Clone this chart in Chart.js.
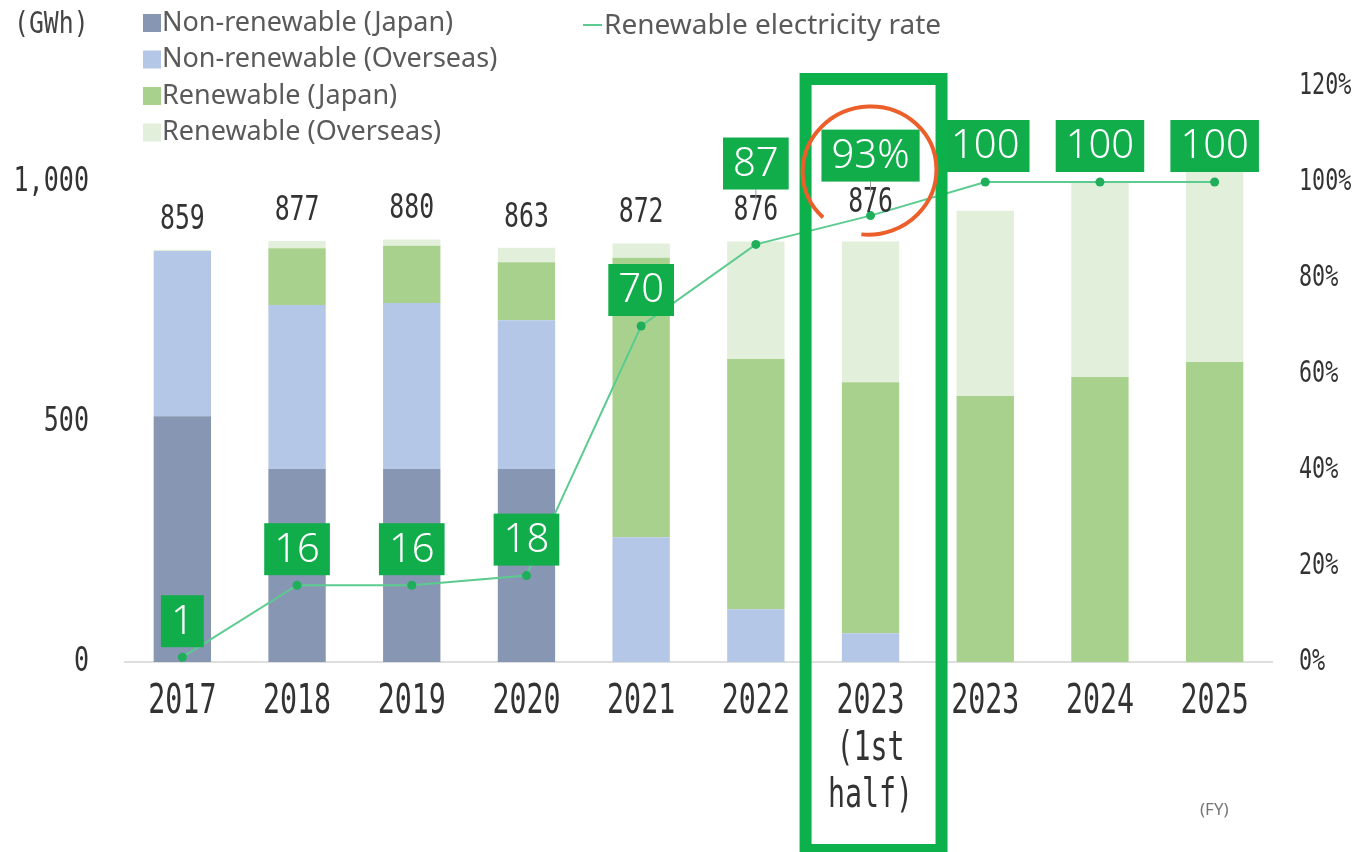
<!DOCTYPE html>
<html>
<head>
<meta charset="utf-8">
<script src="https://cdn.jsdelivr.net/npm/chart.js@4"></script>
<style>
  html, body { margin: 0; padding: 0; background: #ffffff; }
  #wrap { position: relative; width: 1363px; height: 852px; }
</style>
</head>
<body>
<div id="wrap"><canvas id="c" width="1363" height="852"></canvas></div>
<script>
// ---- data ----
const categories = ['2017', '2018', '2019', '2020', '2021', '2022', ['2023', '(1st', 'half)'], '2023', '2024', '2025'];
const nonRenewableJapan    = [512, 402, 402, 402, 0, 0, 0, 0, 0, 0];
const nonRenewableOverseas = [344, 342, 346, 310, 260, 110, 60, 0, 0, 0];
const renewableJapan       = [0, 118, 119, 121, 582, 521, 523, 554, 594, 625];
const renewableOverseas    = [3, 15, 13, 30, 30, 245, 293, 386, 406, 404];
const totalLabels          = ['859', '877', '880', '863', '872', '876', '876', null, null, null];
const renewableRate        = [1, 16, 16, 18, 70, 87, 93, 100, 100, 100];
const rateLabels           = ['1', '16', '16', '18', '70', '87', '93%', '100', '100', '100'];
const leftTicks            = [0, 500, 1000];
const rightTicks           = [0, 20, 40, 60, 80, 100, 120];
const seriesNames = ['Non-renewable (Japan)', 'Non-renewable (Overseas)', 'Renewable (Japan)', 'Renewable (Overseas)'];
const lineName = 'Renewable electricity rate';
const highlightIndex = 6;

const MONO = '"DejaVu Sans Mono", "Liberation Mono", monospace';
const colors = ['#8796b3', '#b4c7e7', '#a9d18e', '#e2efda'];
const boxGreen = '#12ad4b';

function narrowText(ctx, text, x, y, size, sx, align, color) {
  ctx.save();
  ctx.font = size + 'px ' + MONO;
  ctx.fillStyle = color || '#333333';
  ctx.textBaseline = 'middle';
  ctx.textAlign = align;
  ctx.translate(x, y);
  ctx.scale(sx, 1);
  ctx.fillText(text, 0, 0);
  ctx.restore();
}

const overlay = {
  id: 'overlay',
  afterDatasetsDraw(chart) {
    const ctx = chart.ctx;
    const x = chart.scales.x, y = chart.scales.y, y1 = chart.scales.y1;
    ctx.save();
    const labelY = [];
    categories.forEach((c, i) => {
      const total = nonRenewableJapan[i] + nonRenewableOverseas[i] + renewableJapan[i] + renewableOverseas[i];
      const px = x.getPixelForValue(i);
      const py = y1.getPixelForValue(renewableRate[i]);
      let ly = null;
      if (totalLabels[i]) {
        ly = Math.min(y.getPixelForValue(total) - 30, py - 12);
        narrowText(ctx, totalLabels[i], px, ly, 34, 0.73, 'center', '#333333');
      }
      labelY.push(ly);
    });
    // green value boxes
    categories.forEach((c, i) => {
      const px = x.getPixelForValue(i);
      const py = y1.getPixelForValue(renewableRate[i]);
      ctx.font = '300 40px "Noto Sans", Lato, sans-serif';
      const tw = ctx.measureText(rateLabels[i]).width;
      const w = tw + 20, h = 52;
      let bottom = py - 10;
      const ly = labelY[i];
      if (ly !== null && bottom - h < ly + 16 && bottom > ly - 16) {
        bottom = ly - 22;
        ctx.strokeStyle = '#9a9a9a';
        ctx.lineWidth = 1;
        ctx.beginPath(); ctx.moveTo(px, bottom); ctx.lineTo(px, ly - 12); ctx.stroke();
      }
      ctx.fillStyle = boxGreen;
      ctx.fillRect(px - w / 2, bottom - h, w, h);
      ctx.fillStyle = '#ffffff';
      ctx.textAlign = 'center';
      ctx.textBaseline = 'middle';
      ctx.fillText(rateLabels[i], px, bottom - h / 2 + 1);
    });
    ctx.restore();
  },
  afterDraw(chart) {
    const ctx = chart.ctx;
    const x = chart.scales.x, y = chart.scales.y, y1 = chart.scales.y1;
    const area = chart.chartArea;
    ctx.save();
    // axis tick labels (narrow face)
    categories.forEach((c, i) => {
      const lines = Array.isArray(c) ? c : [c];
      lines.forEach((t, k) => narrowText(ctx, t, x.getPixelForValue(i), area.bottom + 40 + k * 47, 41, 0.69, 'center', '#333333'));
    });
    leftTicks.forEach(v => narrowText(ctx, v.toLocaleString('en-US'), 89, y.getPixelForValue(v), 33, 0.76, 'right', '#333333'));
    rightTicks.forEach(v => narrowText(ctx, v + '%', 1299, y1.getPixelForValue(v), 31, 0.7, 'left', '#333333'));
    // legend
    ctx.textBaseline = 'middle';
    ctx.textAlign = 'left';
    ctx.font = '27px "Noto Sans", sans-serif';
    seriesNames.forEach((n, i) => {
      const ry = 23 + i * 36.5;
      ctx.fillStyle = colors[i];
      ctx.fillRect(143, ry - 9, 18, 18);
      ctx.fillStyle = '#5a5a5a';
      ctx.fillText(n, 162, ry);
    });
    ctx.strokeStyle = '#5ccb8f';
    ctx.lineWidth = 2;
    ctx.beginPath(); ctx.moveTo(583, 25); ctx.lineTo(602, 25); ctx.stroke();
    ctx.fillStyle = '#5a5a5a';
    ctx.font = '28px "Noto Sans", sans-serif';
    ctx.fillText(lineName, 604, 26);
    // unit labels
    narrowText(ctx, '(GWh)', 14, 25, 31, 0.8, 'left', '#444444');
    ctx.font = '17px "Noto Sans", sans-serif';
    ctx.fillStyle = '#777777';
    ctx.textAlign = 'left';
    ctx.fillText('(FY)', 1200, 810);
    // highlight frame
    const step = x.getPixelForValue(1) - x.getPixelForValue(0);
    const cx = x.getPixelForValue(highlightIndex) + 3;
    const half = step * 0.645;
    ctx.strokeStyle = '#0db14b';
    ctx.lineWidth = 12;
    ctx.strokeRect(cx - half + 6, area.top - 13 + 6, half * 2 - 12, 850 - (area.top - 13) - 12 + 6);
    // red ring
    const ey = y1.getPixelForValue(renewableRate[highlightIndex]) - 45;
    ctx.strokeStyle = '#ec5f2a';
    ctx.lineWidth = 4;
    ctx.beginPath();
    ctx.ellipse(cx - 4, ey, 67, 64, -0.2, 145 * Math.PI / 180, 468 * Math.PI / 180);
    ctx.stroke();
    ctx.restore();
  }
};

new Chart(document.getElementById('c'), {
  type: 'bar',
  data: {
    labels: categories,
    datasets: [
      { type: 'line', label: lineName, data: renewableRate, yAxisID: 'y1', borderColor: '#5ccb8f', borderWidth: 2,
        pointRadius: 4.5, pointBackgroundColor: '#1fae5a', pointBorderWidth: 0, order: 0, tension: 0 },
      { label: seriesNames[0], data: nonRenewableJapan, backgroundColor: colors[0], order: 1 },
      { label: seriesNames[1], data: nonRenewableOverseas, backgroundColor: colors[1], order: 1 },
      { label: seriesNames[2], data: renewableJapan, backgroundColor: colors[2], order: 1 },
      { label: seriesNames[3], data: renewableOverseas, backgroundColor: colors[3], order: 1 }
    ]
  },
  options: {
    responsive: false,
    animation: false,
    categoryPercentage: 1.0,
    barPercentage: 0.5,
    layout: { padding: { top: 86, left: 0, right: 0, bottom: 0 } },
    plugins: { legend: { display: false }, tooltip: { enabled: false } },
    scales: {
      x: {
        stacked: true,
        grid: { display: false },
        border: { color: '#dedede', width: 2 },
        ticks: { display: false },
        afterFit(s) { s.height = 190; }
      },
      y: {
        stacked: true, min: 0, max: 1200,
        grid: { display: false }, border: { display: false },
        afterBuildTicks(s) { s.ticks = leftTicks.map(v => ({ value: v })); },
        ticks: { display: false },
        afterFit(s) { s.width = 125; }
      },
      y1: {
        position: 'right', min: 0, max: 120,
        grid: { display: false }, border: { display: false },
        afterBuildTicks(s) { s.ticks = rightTicks.map(v => ({ value: v })); },
        ticks: { display: false },
        afterFit(s) { s.width = 91; }
      }
    }
  },
  plugins: [overlay]
});
</script>
</body>
</html>
